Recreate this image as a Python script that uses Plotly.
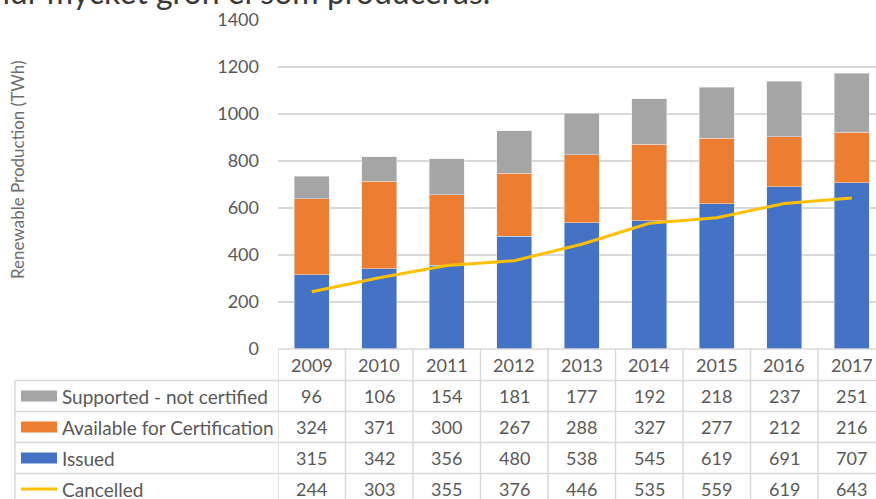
import plotly.graph_objects as go

years = ["2009", "2010", "2011", "2012", "2013", "2014", "2015", "2016", "2017"]
supported = [96, 106, 154, 181, 177, 192, 218, 237, 251]
available = [324, 371, 300, 267, 288, 327, 277, 212, 216]
issued = [315, 342, 356, 480, 538, 545, 619, 691, 707]
cancelled = [244, 303, 355, 376, 446, 535, 559, 619, 643]

series_names = ["Supported - not certified", "Available for Certification", "Issued", "Cancelled"]
series_vals = [supported, available, issued, cancelled]
colors = {"Issued": "#4472C4", "Available for Certification": "#ED7D31",
          "Supported - not certified": "#A5A5A5", "Cancelled": "#FFC000"}

W, H = 876, 499
PL, PT, PB = 278, 20, 349          # plot left / top / bottom in pixels
PW, PH = W - PL, PB - PT
COLW = 67.5                        # category width in px

def px(p):
    return (p - PL) / PW

def py(p):
    return (PB - p) / PH

idx = list(range(len(years)))
xr = [-0.5, -0.5 + PW / COLW]

fig = go.Figure()
fig.add_bar(x=idx, y=issued, name="Issued", marker_color=colors["Issued"], width=0.52)
fig.add_bar(x=idx, y=available, name="Available for Certification",
            marker_color=colors["Available for Certification"], width=0.52)
fig.add_bar(x=idx, y=supported, name="Supported - not certified",
            marker_color=colors["Supported - not certified"], width=0.52)
fig.add_scatter(x=idx, y=cancelled, name="Cancelled", mode="lines",
                line=dict(color=colors["Cancelled"], width=3))

grid = "#d9d9d9"
txtc = "#595959"
font = "Lato"

shapes = []
annots = []
rows_y = [349, 380.5, 411.5, 442.5, 473.5, 504.5]
# horizontal lines
shapes.append(dict(type="line", xref="paper", yref="paper", x0=0, x1=1.2,
                   y0=py(rows_y[0]), y1=py(rows_y[0]), line=dict(color=grid, width=1.5)))
for r in rows_y[1:]:
    shapes.append(dict(type="line", xref="paper", yref="paper", x0=px(15), x1=1.2,
                       y0=py(r), y1=py(r), line=dict(color=grid, width=1.5)))
# vertical lines
shapes.append(dict(type="line", xref="paper", yref="paper", x0=px(15), x1=px(15),
                   y0=py(rows_y[1]), y1=py(rows_y[-1]), line=dict(color=grid, width=1.5)))
for k in range(len(years) + 1):
    shapes.append(dict(type="line", xref="x", yref="paper", x0=k - 0.5, x1=k - 0.5,
                       y0=py(rows_y[0]), y1=py(rows_y[-1]), line=dict(color=grid, width=1.5)))

# header years
for k, yv in enumerate(years):
    annots.append(dict(x=k, y=py((rows_y[0] + rows_y[1]) / 2), xref="x", yref="paper",
                       xanchor="center", yanchor="middle",
                       text=yv, showarrow=False, font=dict(family=font, size=18, color=txtc)))
# rows
for ri, (nm, vals) in enumerate(zip(series_names, series_vals)):
    yc = (rows_y[ri + 1] + rows_y[ri + 2]) / 2
    for k, v in enumerate(vals):
        annots.append(dict(x=k, y=py(yc), xref="x", yref="paper", text=str(v),
                           xanchor="center", yanchor="middle",
                           showarrow=False, font=dict(family=font, size=18, color=txtc)))
    annots.append(dict(x=px(60), y=py(yc), xref="paper", yref="paper", text=nm,
                       xanchor="left", yanchor="middle", showarrow=False,
                       font=dict(family=font, size=19, color=txtc)))
    if nm == "Cancelled":
        shapes.append(dict(type="line", xref="paper", yref="paper", x0=px(21), x1=px(57),
                           y0=py(yc), y1=py(yc), line=dict(color=colors[nm], width=3)))
    else:
        shapes.append(dict(type="rect", xref="paper", yref="paper", x0=px(21), x1=px(57),
                           y0=py(yc - 5.5), y1=py(yc + 5.5), line=dict(width=0),
                           fillcolor=colors[nm]))

# axis title
annots.append(dict(x=px(17), y=py(170), xref="paper", yref="paper",
                   xanchor="center", yanchor="middle",
                   text="Renewable Production (TWh)", textangle=-90, showarrow=False,
                   font=dict(family=font, size=17, color="#6f6f6f")))
# clipped heading text at top
annots.append(dict(x=px(-10), y=py(13), xref="paper", yref="paper", xanchor="left",
                   yanchor="bottom", text="hur mycket grön el som produceras.",
                   showarrow=False, font=dict(family=font, size=32, color="#3a3a3a")))

fig.update_layout(
    width=W, height=H, barmode="stack", showlegend=False,
    margin=dict(l=PL, r=0, t=PT, b=H - PB, pad=0),
    plot_bgcolor="white", paper_bgcolor="white",
    xaxis=dict(range=xr, showticklabels=False, showgrid=False, zeroline=False,
               showline=False, ticks=""),
    yaxis=dict(range=[0, 1400], dtick=200, showgrid=True, gridcolor=grid, gridwidth=1.5,
               zeroline=False, showline=False, ticks="", ticklabelstandoff=18,
               tickfont=dict(family=font, size=18, color=txtc)),
    shapes=shapes, annotations=annots,
)
fig.write_html("out.html")
